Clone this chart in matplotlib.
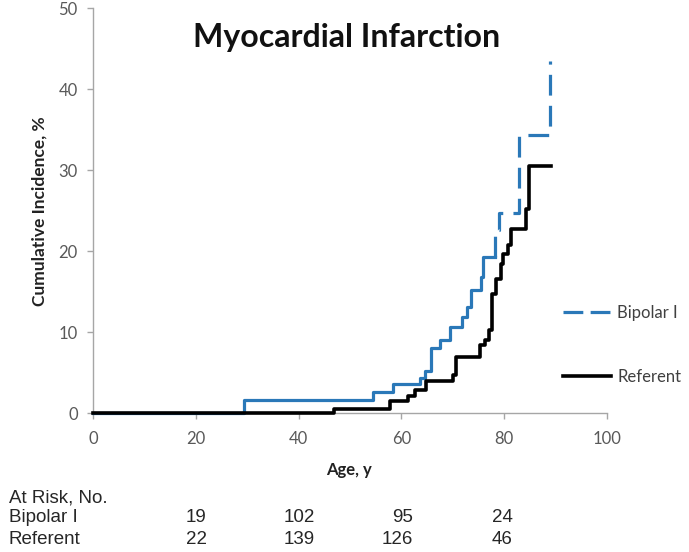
import numpy as np
import matplotlib
matplotlib.use("Agg")
import matplotlib.pyplot as plt
from matplotlib.lines import Line2D

# step points (age, cumulative incidence %)
bipolar_age = [0, 29.4, 54.4, 58.4, 63.7, 64.5, 65.8, 67.6, 69.5, 71.8, 72.8, 73.6,
               75.4, 75.8, 78.3, 79.0, 82.8, 89.0]
bipolar_ci = [0, 1.6, 2.6, 3.6, 4.3, 5.2, 8.0, 9.0, 10.6, 11.9, 13.1, 15.2,
              16.8, 19.2, 22.6, 24.7, 34.3, 43.5]
dash_from = 14  # blue curve turns dashed from this step on

referent_age = [0, 46.8, 57.7, 61.3, 62.6, 64.8, 70.0, 70.7, 75.2, 76.3, 77.0, 77.7,
                78.4, 79.3, 79.8, 80.7, 81.4, 84.3, 84.9, 89.2]
referent_ci = [0, 0.5, 1.5, 2.1, 2.9, 3.9, 4.7, 6.9, 8.4, 9.0, 10.2, 14.7,
               16.6, 18.4, 19.6, 20.8, 22.7, 25.2, 30.5, 30.5]

risk_ages = [20, 40, 60, 80]
risk_bipolar = [19, 102, 95, 24]
risk_referent = [22, 139, 126, 46]

blue = '#2a78b8'
grey = '#a6a6a6'

fig = plt.figure(figsize=(6.89, 5.52), dpi=100)
ax = fig.add_axes([0.135, 0.2518, 0.746, 0.7337])

# solid part of the bipolar curve, then the dashed part
xs = bipolar_age[:dash_from + 1]
ys = bipolar_ci[:dash_from] + [bipolar_ci[dash_from - 1]]
ax.step(xs, ys, where='post', color=blue, lw=2.3, clip_on=False, zorder=3)
xd = [bipolar_age[dash_from]] + bipolar_age[dash_from:]
yd = [bipolar_ci[dash_from - 1]] + bipolar_ci[dash_from:]
ax.step(xd, yd, where='post', color=blue, lw=2.3, dashes=(6.5, 3.2),
        clip_on=False, zorder=3)

ref_line, = ax.step(referent_age, referent_ci, where='post', color='black', lw=2.6,
                    clip_on=False, zorder=4, label='Referent')

ax.set_xlim(0, 100)
ax.set_ylim(0, 50)
ax.set_xticks([0, 20, 40, 60, 80, 100])
ax.set_yticks([0, 10, 20, 30, 40, 50])
for s in ['top', 'right']:
    ax.spines[s].set_visible(False)
for s in ['left', 'bottom']:
    ax.spines[s].set_color(grey)
    ax.spines[s].set_linewidth(1.0)
ax.tick_params(axis='both', colors=grey, length=4, width=1.0, labelcolor='#595959',
               labelsize=12)
ax.tick_params(axis='x', pad=9)
ax.tick_params(axis='y', pad=7)
for lab in ax.get_xticklabels() + ax.get_yticklabels():
    lab.set_family('Lato')

fig.text(0.503, 1 - 47 / 552, 'Myocardial Infarction', ha='center', va='baseline',
         fontsize=23, fontweight='bold', family='Lato', color='#111111')
fig.text(40 / 689, 1 - 211 / 552, 'Cumulative Incidence, %', rotation=90,
         ha='center', va='center', fontsize=12.5, fontweight='bold', family='Lato',
         color='#222222')
fig.text(349 / 689, 1 - 470 / 552, 'Age, y', ha='center', va='center',
         fontsize=12, fontweight='bold', family='Lato', color='#222222')

bip_handle = Line2D([], [], color=blue, lw=2.3, dashes=(6.2, 2.3), label='Bipolar I')
fig.legend(handles=[bip_handle, ref_line], loc='center left',
           bbox_to_anchor=(563 / 689, 1 - 345 / 552), frameon=False,
           borderpad=0, borderaxespad=0, handlelength=2.9, handletextpad=0.35,
           labelspacing=2.9, prop={'family': 'Lato', 'size': 12},
           labelcolor='#404040')

# number at risk table
tkw = dict(family='Liberation Sans', fontsize=13.5, color='#262626', va='center')
fig.text(9 / 689, 1 - 498 / 552, 'At Risk, No.', ha='left', **tkw)
fig.text(9 / 689, 1 - 518 / 552, 'Bipolar I', ha='left', **tkw)
fig.text(9 / 689, 1 - 539 / 552, 'Referent', ha='left', **tkw)
right_px = [206.7, 315, 412.7, 513]
for i, age in enumerate(risk_ages):
    fig.text(right_px[i] / 689, 1 - 518 / 552, str(risk_bipolar[i]), ha='right', **tkw)
    fig.text(right_px[i] / 689, 1 - 539 / 552, str(risk_referent[i]), ha='right', **tkw)

fig.savefig('out.png', dpi=100)
